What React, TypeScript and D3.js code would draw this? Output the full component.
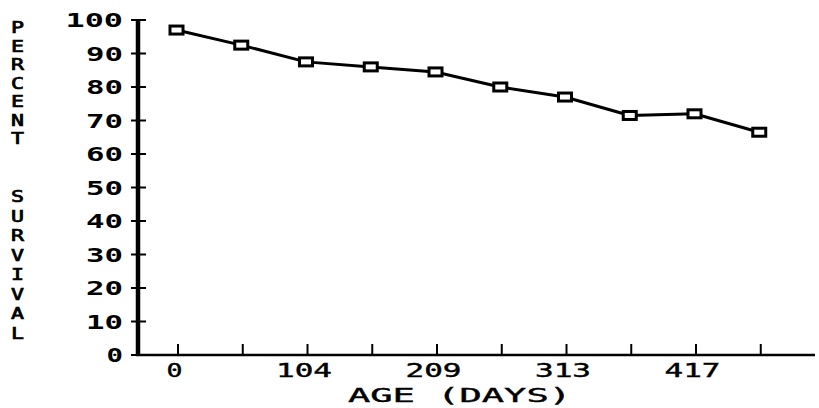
import React from 'react';
import * as d3 from 'd3';

// Data
const ageDays = [0, 52.125, 104.25, 156.375, 208.5, 260.625, 312.75, 364.875, 417, 469.125];
const survival = [97, 92.5, 87.5, 86, 84.5, 80, 77, 71.5, 72, 66.5];
const yTickValues = [0, 10, 20, 30, 40, 50, 60, 70, 80, 90, 100];
const xTickLabels = ['0', '104', '209', '313', '417'];
const yTitleTop = 'PERCENT';
const yTitleBottom = 'SURVIVAL';
const xTitle = 'AGE (DAYS)';

const W = 819;
const H = 408;
const FONT = '"DejaVu Sans Mono", "Liberation Mono", monospace';

export default function App() {
  const x = d3.scaleLinear().domain([-31, 514]).range([138, 815]);
  const y = d3.scaleLinear().domain([0, 100]).range([355, 20]);
  const line = d3
    .line<number>()
    .x((_, i) => x(ageDays[i]))
    .y((d) => y(d));

  const axisX0 = x(-31);
  const axisX1 = x(514);
  const axisY0 = y(0);

  const yLetters: { ch: string; top: number }[] = [];
  yTitleTop.split('').forEach((ch, i) => yLetters.push({ ch, top: 21 + i * 18.5 }));
  yTitleBottom.split('').forEach((ch, i) => yLetters.push({ ch, top: 190 + i * 19.5 }));

  return (
    <svg
      width={W}
      height={H}
      viewBox={`0 0 ${W} ${H}`}
      style={{ position: 'absolute', left: 0, top: 0, background: '#fff' }}
    >
      <rect x={0} y={0} width={W} height={H} fill="#fff" />
      {/* Y axis */}
      <line x1={axisX0} x2={axisX0} y1={y(100)} y2={axisY0 + 1} stroke="#000" strokeWidth={4.5} />
      {yTickValues.map((v) => (
        <g key={v}>
          <line x1={131} x2={146} y1={y(v)} y2={y(v)} stroke="#000" strokeWidth={2} />
          <text
            x={123 - (String(v).length * 20.5 - 4)}
            y={y(v) + 7}
            fontFamily={FONT}
            fontWeight="bold"
            fontSize={19}
            textLength={String(v).length * 20.5 - 4}
            lengthAdjust="spacingAndGlyphs"
            fill="#000"
          >
            {v}
          </text>
        </g>
      ))}
      {/* X axis */}
      <line x1={axisX0 - 2} x2={axisX1} y1={axisY0} y2={axisY0} stroke="#000" strokeWidth={2.5} />
      {ageDays.map((d, i) => (
        <line
          key={i}
          x1={x(d) + 1.5}
          x2={x(d) + 1.5}
          y1={axisY0}
          y2={axisY0 - 11}
          stroke="#000"
          strokeWidth={2}
        />
      ))}
      {xTickLabels.map((lab, i) => {
        const len = lab.length * 20 - 4;
        const cx = x(ageDays[i * 2]) - 2;
        return (
          <text
            key={lab}
            x={cx - len / 2}
            y={377}
            fontFamily={FONT}
            fontSize={19}
            textLength={len}
            lengthAdjust="spacingAndGlyphs"
            fill="#000"
            stroke="#000"
            strokeWidth={0.4}
          >
            {lab}
          </text>
        );
      })}
      <text
        x={348}
        y={402}
        fontFamily={FONT}
        fontSize={19.5}
        textLength={223}
        lengthAdjust="spacingAndGlyphs"
        fill="#000"
        stroke="#000"
        strokeWidth={0.4}
      >
        {xTitle}
      </text>
      {/* Y title, stacked letters */}
      {yLetters.map((l, i) => (
        <text
          key={i}
          x={11}
          y={l.top + 12}
          fontFamily={FONT}
          fontSize={15.5}
          textLength={13}
          lengthAdjust="spacingAndGlyphs"
          fill="#000"
          stroke="#000"
          strokeWidth={0.7}
        >
          {l.ch}
        </text>
      ))}
      {/* Data line */}
      <path d={line(survival) || ''} fill="none" stroke="#000" strokeWidth={3} strokeLinejoin="round" />
      {survival.map((v, i) => (
        <rect
          key={i}
          x={x(ageDays[i]) - 6.5}
          y={y(v) - 4}
          width={13}
          height={8}
          fill="#fff"
          stroke="#000"
          strokeWidth={3}
        />
      ))}
    </svg>
  );
}
